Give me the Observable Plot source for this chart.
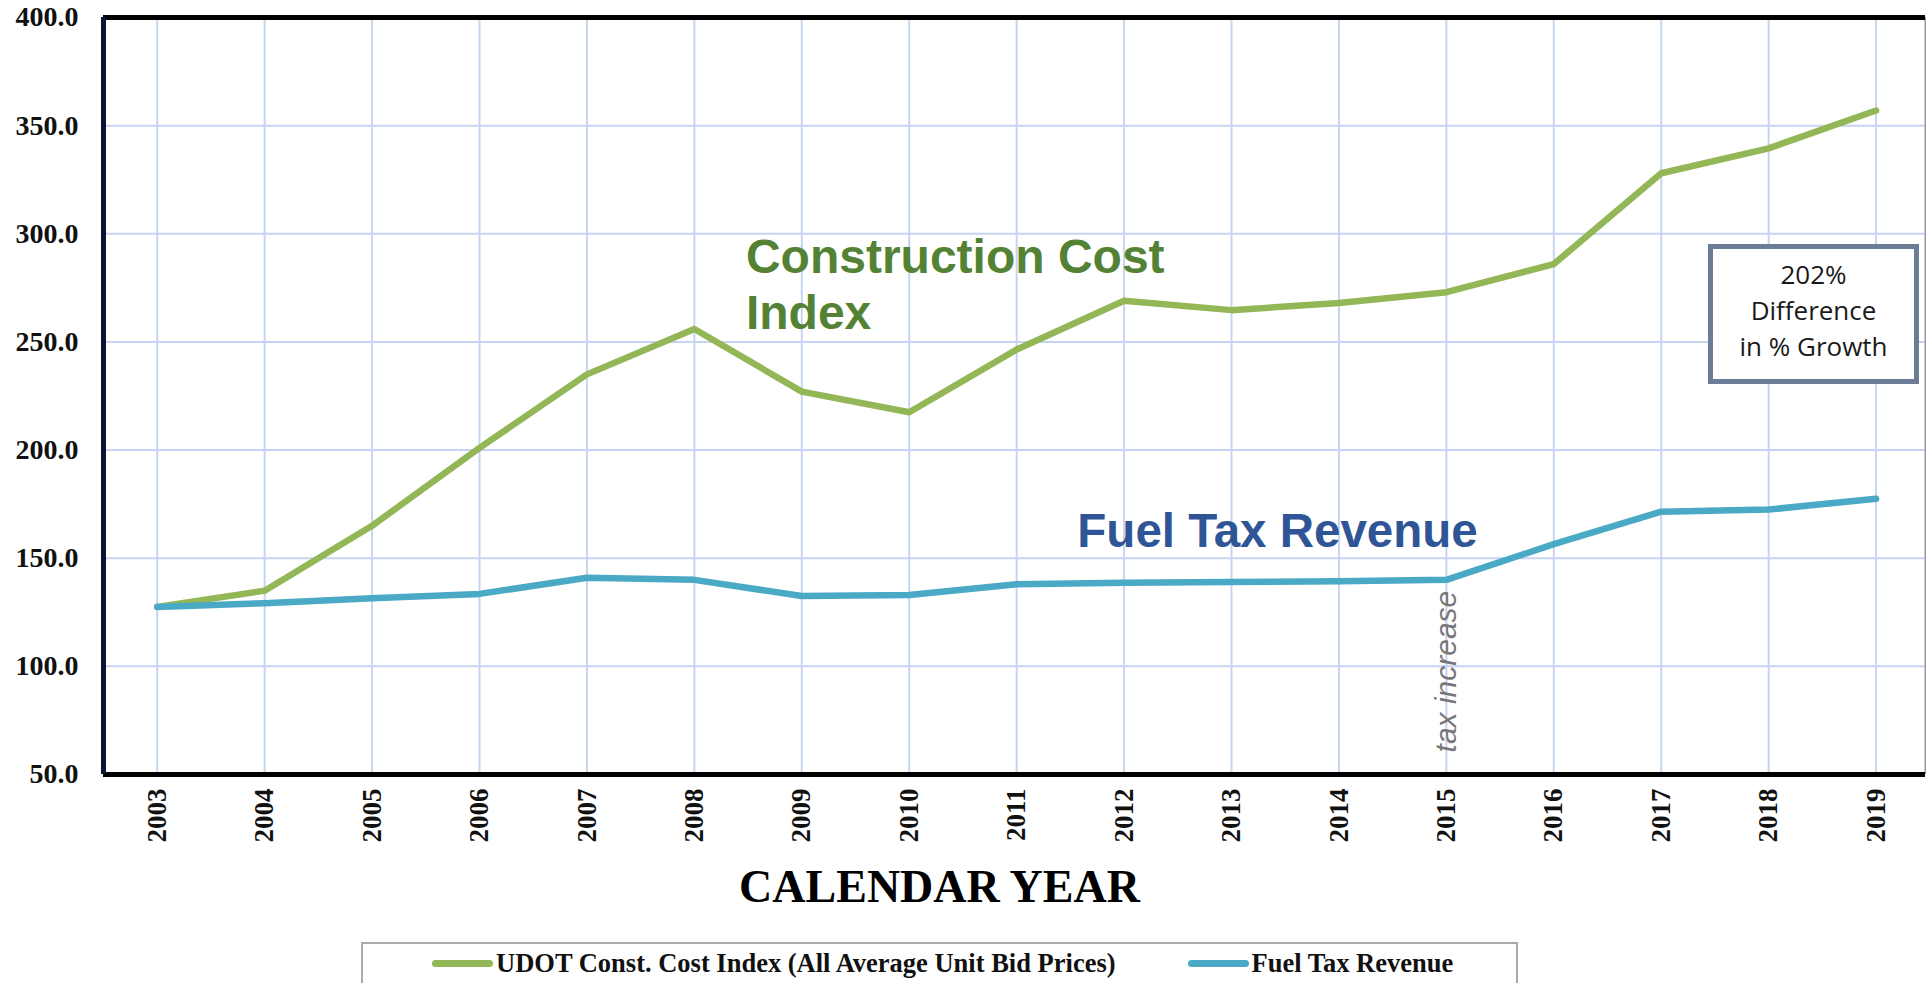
<!DOCTYPE html>
<html>
<head>
<meta charset="utf-8">
<script src="https://cdn.jsdelivr.net/npm/d3@7"></script>
<script src="https://cdn.jsdelivr.net/npm/@observablehq/plot@0.6"></script>
<style>
  html, body { margin: 0; padding: 0; background: #fff; overflow: hidden; }
  #wrap { position: relative; width: 1926px; }
  #wrap svg { display: block; }
  #note {
    position: absolute; left: 1708px; top: 244px; width: 211px; height: 140px;
    box-sizing: border-box; border: 5px solid #6b7c96; background: #fff;
    font-family: "Open Sans", sans-serif; font-size: 26px; line-height: 36px;
    color: #1a1a1a; text-align: center; padding-top: 7px;
  }
  #legend {
    margin-top: 12px; margin-left: 361px; width: 1157px; height: 41px;
    box-sizing: border-box; border: 2px solid #aaa; border-bottom: none;
    display: flex; align-items: center; padding-left: 69px;
    font-family: "Liberation Serif", serif; font-weight: bold; font-size: 26.5px; color: #111;
  }
  .sw { display: inline-block; width: 61px; height: 7px; border-radius: 4px; margin-right: 3px; }
</style>
</head>
<body>
<div id="wrap"></div>
<script>
const YEARS = [2003, 2004, 2005, 2006, 2007, 2008, 2009, 2010, 2011, 2012, 2013, 2014, 2015, 2016, 2017, 2018, 2019];
const COST_INDEX = [127.5, 135, 165, 201, 235, 256, 227, 217.5, 246.5, 269, 264.7, 268, 273, 286, 328, 339.5, 357];
const FUEL_TAX = [127.5, 129.2, 131.5, 133.5, 141, 140, 132.5, 133, 138, 138.6, 139, 139.3, 140, 156.5, 171.5, 172.5, 177.5];
const Y_TICKS = [50, 100, 150, 200, 250, 300, 350, 400];
const X_DOMAIN = [2002.5, 2019.46];
const Y_DOMAIN = [50, 400];
const SERIES = ["UDOT Const. Cost Index (All Average Unit Bid Prices)", "Fuel Tax Revenue"];
const COLORS = ["#93b656", "#4aa9c5"];

const rows = [];
YEARS.forEach((yr, i) => {
  rows.push({year: yr, value: COST_INDEX[i], series: SERIES[0]});
  rows.push({year: yr, value: FUEL_TAX[i], series: SERIES[1]});
});

const chart = Plot.plot({
  width: 1926,
  height: 930,
  marginLeft: 103,
  marginRight: 1,
  marginTop: 17,
  marginBottom: 156,
  style: {fontFamily: "Liberation Serif", background: "#fff"},
  x: {domain: X_DOMAIN, axis: null},
  y: {domain: Y_DOMAIN, axis: null},
  color: {domain: SERIES, range: COLORS},
  marks: [
    Plot.gridX({ticks: YEARS, stroke: "#c6d4f2", strokeOpacity: 1, strokeWidth: 2}),
    Plot.gridY({ticks: Y_TICKS, stroke: "#c6d4f2", strokeOpacity: 1, strokeWidth: 2}),
    Plot.line(rows, {x: "year", y: "value", z: "series", stroke: "series", strokeWidth: 6.5, strokeLinejoin: "round", strokeLinecap: "round"}),
    Plot.ruleX([X_DOMAIN[1]], {stroke: "#9a9a9a", strokeWidth: 2}),
    Plot.ruleY([Y_DOMAIN[1]], {stroke: "#000", strokeWidth: 5}),
    Plot.ruleY([Y_DOMAIN[0]], {stroke: "#000", strokeWidth: 5}),
    Plot.ruleX([X_DOMAIN[0]], {stroke: "#0b1433", strokeWidth: 5}),
    Plot.axisY({ticks: Y_TICKS, tickFormat: d => d.toFixed(1), tickSize: 0, tickPadding: 25,
      fontSize: 28, fontWeight: "bold", fontFamily: "Liberation Serif", fill: "#111", label: null}),
    Plot.axisX({ticks: YEARS, tickFormat: d => String(d), tickRotate: -90, tickSize: 0, tickPadding: 14,
      fontSize: 27, fontWeight: "bold", fontFamily: "Liberation Serif", fill: "#111", label: null}),
    Plot.text(["CALENDAR YEAR"], {frameAnchor: "bottom", lineAnchor: "bottom", dx: -75, dy: 127,
      fontSize: 46, fontWeight: "bold", fontFamily: "Liberation Serif", fill: "#000"}),
    Plot.text(["Construction Cost\nIndex"], {x: () => 2008.48, y: () => 300.5, textAnchor: "start", lineAnchor: "top",
      lineHeight: 1.17, fontSize: 48, fontWeight: "bold", fontFamily: "Liberation Sans", fill: "#548235"}),
    Plot.text(["Fuel Tax Revenue"], {x: () => 2011.565, y: () => 155, textAnchor: "start", lineAnchor: "bottom",
      fontSize: 47.5, fontWeight: "bold", fontFamily: "Liberation Sans", fill: "#2f5597"}),
    Plot.text(["tax increase"], {x: () => 2015, y: () => 60.2, rotate: -90, textAnchor: "start",
      fontSize: 30, fontStyle: "italic", fontFamily: "Liberation Sans", fill: "#777"})
  ]
});

const wrap = document.getElementById("wrap");
wrap.appendChild(chart);

const note = document.createElement("div");
note.id = "note";
note.innerHTML = "202%<br>Difference<br>in % Growth";
wrap.appendChild(note);

const legend = document.createElement("div");
legend.id = "legend";
legend.innerHTML =
  `<span class="sw" style="background:${COLORS[0]}"></span><span>${SERIES[0]}</span>` +
  `<span class="sw" style="background:${COLORS[1]};margin-left:72px"></span><span>${SERIES[1]}</span>`;
document.body.appendChild(legend);
</script>
</body>
</html>
